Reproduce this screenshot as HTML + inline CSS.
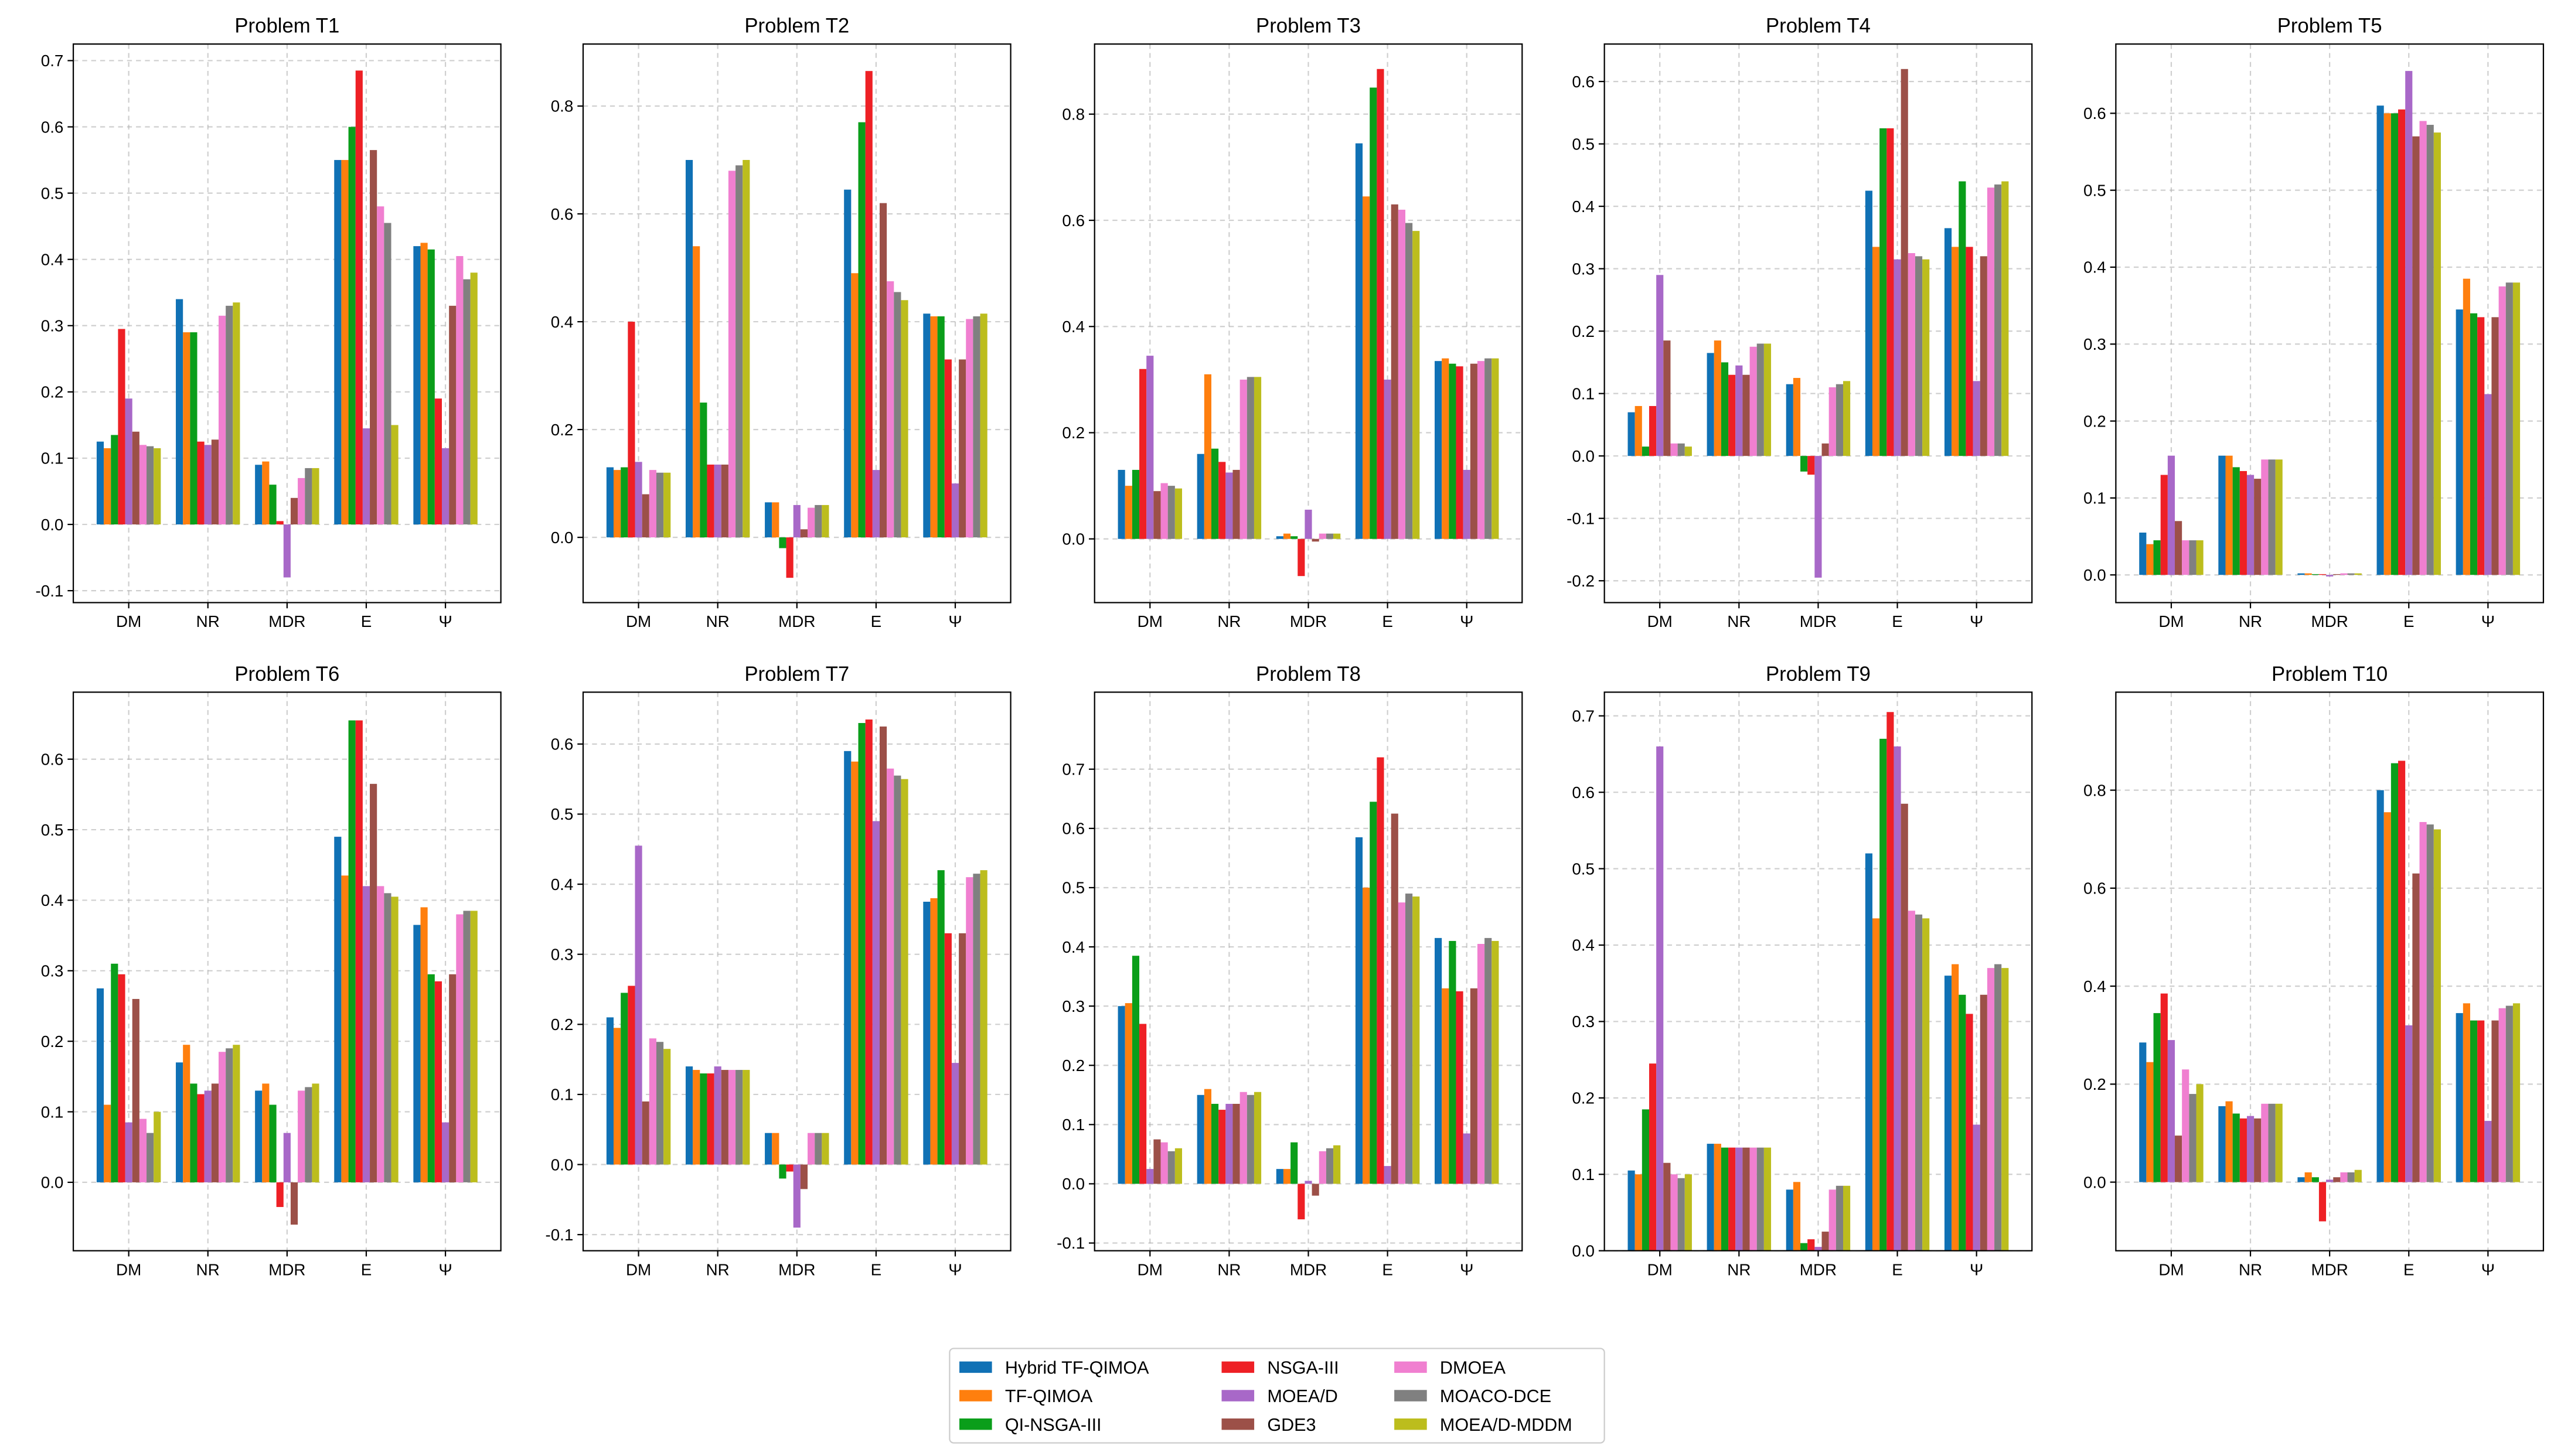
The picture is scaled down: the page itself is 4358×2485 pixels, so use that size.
<!DOCTYPE html>
<html><head><meta charset="utf-8">
<style>
html,body{margin:0;padding:0;background:#fff;}
svg{display:block;font-family:"Liberation Sans","DejaVu Sans",sans-serif;}
</style></head>
<body>
<svg id="fig" width="4358" height="2485" viewBox="0 0 1568 894" xmlns="http://www.w3.org/2000/svg"></svg>
<script>
const seriesNames = ["Hybrid TF-QIMOA","TF-QIMOA","QI-NSGA-III","NSGA-III","MOEA/D","GDE3","DMOEA","MOACO-DCE","MOEA/D-MDDM"];
const seriesColors = ["#1071b5","#ff7f0e","#0a9e1a","#ee2025","#a868c8","#9c5048","#f07fd0","#808080","#bcbd1d"];
const categories = ["DM","NR","MDR","E","Ψ"];
const problems = ["Problem T1","Problem T2","Problem T3","Problem T4","Problem T5","Problem T6","Problem T7","Problem T8","Problem T9","Problem T10"];
// values[problem][category][series]
const valsT1 = [[0.125,0.115,0.135,0.295,0.19,0.14,0.12,0.118,0.115],[0.34,0.29,0.29,0.125,0.12,0.128,0.315,0.33,0.335],[0.09,0.095,0.06,0.005,-0.08,0.04,0.07,0.085,0.085],[0.55,0.55,0.60,0.685,0.145,0.565,0.48,0.455,0.15],[0.42,0.425,0.415,0.19,0.115,0.33,0.405,0.37,0.38]];
const valsT2 = [[0.13,0.125,0.13,0.40,0.14,0.08,0.125,0.12,0.12],[0.70,0.54,0.25,0.135,0.135,0.135,0.68,0.69,0.70],[0.065,0.065,-0.02,-0.075,0.06,0.015,0.055,0.06,0.06],[0.645,0.49,0.77,0.865,0.125,0.62,0.475,0.455,0.44],[0.415,0.41,0.41,0.33,0.1,0.33,0.405,0.41,0.415]];
const valsT3 = [[0.13,0.10,0.13,0.32,0.345,0.09,0.105,0.10,0.095],[0.16,0.31,0.17,0.145,0.125,0.13,0.30,0.305,0.305],[0.005,0.01,0.005,-0.07,0.055,-0.005,0.01,0.01,0.01],[0.745,0.645,0.85,0.885,0.30,0.63,0.62,0.595,0.58],[0.335,0.34,0.33,0.325,0.13,0.33,0.335,0.34,0.34]];
const valsT4 = [[0.07,0.08,0.015,0.08,0.29,0.185,0.02,0.02,0.015],[0.165,0.185,0.15,0.13,0.145,0.13,0.175,0.18,0.18],[0.115,0.125,-0.025,-0.03,-0.195,0.02,0.11,0.115,0.12],[0.425,0.335,0.525,0.525,0.315,0.62,0.325,0.32,0.315],[0.365,0.335,0.44,0.335,0.12,0.32,0.43,0.435,0.44]];
const valsT5 = [[0.055,0.04,0.045,0.13,0.155,0.07,0.045,0.045,0.045],[0.155,0.155,0.14,0.135,0.13,0.125,0.15,0.15,0.15],[0.002,0.002,0.001,0.001,-0.002,0.001,0.002,0.002,0.002],[0.61,0.60,0.60,0.605,0.655,0.57,0.59,0.585,0.575],[0.345,0.385,0.34,0.335,0.235,0.335,0.375,0.38,0.38]];
const valsT6 = [[0.275,0.11,0.31,0.295,0.085,0.26,0.09,0.07,0.10],[0.17,0.195,0.14,0.125,0.13,0.14,0.185,0.19,0.195],[0.13,0.14,0.11,-0.035,0.07,-0.06,0.13,0.135,0.14],[0.49,0.435,0.655,0.655,0.42,0.565,0.42,0.41,0.405],[0.365,0.39,0.295,0.285,0.085,0.295,0.38,0.385,0.385]];
const valsT7 = [[0.21,0.195,0.245,0.255,0.455,0.09,0.18,0.175,0.165],[0.14,0.135,0.13,0.13,0.14,0.135,0.135,0.135,0.135],[0.045,0.045,-0.02,-0.01,-0.09,-0.035,0.045,0.045,0.045],[0.59,0.575,0.63,0.635,0.49,0.625,0.565,0.555,0.55],[0.375,0.38,0.42,0.33,0.145,0.33,0.41,0.415,0.42]];
const valsT8 = [[0.30,0.305,0.385,0.27,0.025,0.075,0.07,0.055,0.06],[0.15,0.16,0.135,0.125,0.135,0.135,0.155,0.15,0.155],[0.025,0.025,0.07,-0.06,0.005,-0.02,0.055,0.06,0.065],[0.585,0.50,0.645,0.72,0.03,0.625,0.475,0.49,0.485],[0.415,0.33,0.41,0.325,0.085,0.33,0.405,0.415,0.41]];
const valsT9 = [[0.105,0.10,0.185,0.245,0.66,0.115,0.10,0.095,0.10],[0.14,0.14,0.135,0.135,0.135,0.135,0.135,0.135,0.135],[0.08,0.09,0.01,0.015,0.005,0.025,0.08,0.085,0.085],[0.52,0.435,0.67,0.705,0.66,0.585,0.445,0.44,0.435],[0.36,0.375,0.335,0.31,0.165,0.335,0.37,0.375,0.37]];
const valsT10 = [[0.285,0.245,0.345,0.385,0.29,0.095,0.23,0.18,0.20],[0.155,0.165,0.14,0.13,0.135,0.13,0.16,0.16,0.16],[0.01,0.02,0.01,-0.08,0.005,0.01,0.02,0.02,0.025],[0.80,0.755,0.855,0.86,0.32,0.63,0.735,0.73,0.72],[0.345,0.365,0.33,0.33,0.125,0.33,0.355,0.36,0.365]];
const allVals = [valsT1,valsT2,valsT3,valsT4,valsT5,valsT6,valsT7,valsT8,valsT9,valsT10];
const yMins = [-0.118,-0.121,-0.12,-0.235,-0.036,-0.097,-0.123,-0.113,0,-0.14];
const yMaxs = [0.725,0.915,0.932,0.66,0.69,0.695,0.674,0.83,0.731,1.0];
const tickLabelsY = [
 ["-0.1","0.0","0.1","0.2","0.3","0.4","0.5","0.6","0.7"],
 ["0.0","0.2","0.4","0.6","0.8"],
 ["0.0","0.2","0.4","0.6","0.8"],
 ["-0.2","-0.1","0.0","0.1","0.2","0.3","0.4","0.5","0.6"],
 ["0.0","0.1","0.2","0.3","0.4","0.5","0.6"],
 ["0.0","0.1","0.2","0.3","0.4","0.5","0.6"],
 ["-0.1","0.0","0.1","0.2","0.3","0.4","0.5","0.6"],
 ["-0.1","0.0","0.1","0.2","0.3","0.4","0.5","0.6","0.7"],
 ["0.0","0.1","0.2","0.3","0.4","0.5","0.6","0.7"],
 ["0.0","0.2","0.4","0.6","0.8"]
];

const NS="http://www.w3.org/2000/svg";
const svg=document.getElementById('fig');
function mk(tag,attrs,parent){const e=document.createElementNS(NS,tag);for(const k in attrs)e.setAttribute(k,attrs[k]);(parent||svg).appendChild(e);return e;}
const colX=[45,358,672,985,1299], rowY=[27,425], W=262.5, H=343;
const xMin=-0.7,xMax=4.7,barW=0.09;

for(let p=0;p<10;p++){
  const x0=colX[p%5], y0=rowY[Math.floor(p/5)];
  const g=mk('g',{});
  
  
  const lo=yMins[p], hi=yMaxs[p];
  const ys=v=>y0+H-(v-lo)/(hi-lo)*H;
  const xs=v=>x0+(v-xMin)/(xMax-xMin)*W;
  // grid
  tickLabelsY[p].forEach(t=>{
    const v=parseFloat(t), y=ys(v);
    const gl=mk('line',{x1:x0,x2:x0+W,y1:y,y2:y,stroke:'#b0b0b0','stroke-width':0.8,'stroke-dasharray':'3,2.5',opacity:0.6},g);
    
    
    mk('line',{x1:x0-3.5,x2:x0,y1:y,y2:y,stroke:'#000','stroke-width':0.8},g);
    const tl=mk('text',{x:x0-6,y:y+3.5,'font-size':10,'text-anchor':'end',fill:'#000'},g);
    tl.textContent=t;
    
    
  });
  categories.forEach((c,ci)=>{
    const x=xs(ci);
    const gl=mk('line',{x1:x,x2:x,y1:y0,y2:y0+H,stroke:'#b0b0b0','stroke-width':0.8,'stroke-dasharray':'3,2.5',opacity:0.6},g);
    
    
  });
  // bars
  categories.forEach((c,ci)=>{
    allVals[p][ci].forEach((v,si)=>{
      const cx=ci+(si-4)*barW;
      const xa=xs(cx-barW/2), xb=xs(cx+barW/2);
      const ya=ys(Math.max(v,0)), yb=ys(Math.min(v,0));
      const r=mk('rect',{x:xa,y:ya,width:xb-xa,height:Math.max(yb-ya,0.01),fill:seriesColors[si]},g);
      
      
    });
    const x=xs(ci);
    mk('line',{x1:x,x2:x,y1:y0+H,y2:y0+H+3.5,stroke:'#000','stroke-width':0.8},g);
    const tl=mk('text',{x:x,y:y0+H+15,'font-size':10,'text-anchor':'middle',fill:'#000'},g);
    tl.textContent=c;
    
    
  });
  const fr=mk('rect',{x:x0,y:y0,width:W,height:H,fill:'none',stroke:'#000','stroke-width':0.8},g);
  
  
  const tt=mk('text',{x:x0+W/2,y:y0-7,'font-size':12.5,'text-anchor':'middle',fill:'#000'},g);
  tt.textContent=problems[p];
  
  
}
// legend
const lg=mk('g',{});


mk('rect',{x:583,y:828,width:402,height:58,rx:2.5,fill:'#fff',stroke:'#cccccc','stroke-width':0.8},lg);
const legX=[589,750,856];
seriesNames.forEach((n,i)=>{
  const col=Math.floor(i/3), row=i%3;
  const x=legX[col], y=836+row*17.5;
  const sw=mk('rect',{x:x,y:y,width:20,height:7,fill:seriesColors[i]},lg);
  
  
  const t=mk('text',{x:x+28,y:y+7.5,'font-size':11,fill:'#000'},lg);
  t.textContent=n;
  
  
});
</script>
</body></html>
